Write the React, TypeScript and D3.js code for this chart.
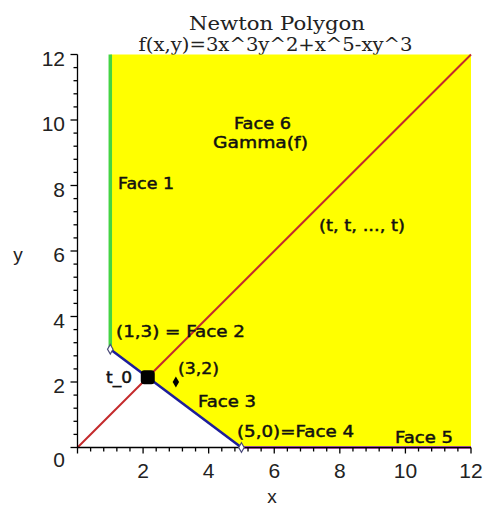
import React from "react";
import * as d3 from "d3";

// Exponent vectors (i, j) of the monomials of f(x,y) = 3x^3y^2 + x^5 - xy^3
const monomialX = [3, 5, 1];
const monomialY = [2, 0, 3];

// Vertices of the Newton polygon boundary (compact part)
const vertexX = [1, 5];
const vertexY = [3, 0];

// Plot window and tick values
const domainMax = 12;
const tickValues = [0, 2, 4, 6, 8, 10, 12];
const minorStep = 0.4;

const W = 486;
const H = 508;

const x = d3.scaleLinear().domain([0, domainMax]).range([77.5, 471]);
const y = d3.scaleLinear().domain([0, domainMax]).range([447.5, 54.5]);

// t_0: where the diagonal (t, t) meets the compact face from (1,3) to (5,0)
const slope = (vertexY[1] - vertexY[0]) / (vertexX[1] - vertexX[0]);
const t0 = (vertexY[0] - slope * vertexX[0]) / (1 - slope);

const labelFont = "'DejaVu Sans', Verdana, sans-serif";

type Label = { text: string; px: number; py: number; len: number };
const labels: Label[] = [
  { text: "Face 6", px: 234, py: 128.5, len: 57 },
  { text: "Gamma(f)", px: 213, py: 148, len: 95 },
  { text: "Face 1", px: 118, py: 188.5, len: 56 },
  { text: "(t, t, ..., t)", px: 319, py: 231, len: 86 },
  { text: "(1,3) = Face 2", px: 116, py: 337, len: 129 },
  { text: "(3,2)", px: 178, py: 373.5, len: 41 },
  { text: "t_0", px: 106, py: 383, len: 26 },
  { text: "Face 3", px: 198, py: 407, len: 58 },
  { text: "(5,0)=Face 4", px: 237, py: 436.5, len: 117 },
  { text: "Face 5", px: 395, py: 443, len: 58 },
];

export default function App() {
  const line = d3
    .line<[number, number]>()
    .x((d) => x(d[0]))
    .y((d) => y(d[1]));

  // Gamma(f): the region above the Newton polygon
  const region: [number, number][] = [
    [vertexX[0], domainMax],
    [vertexX[0], vertexY[0]],
    [vertexX[1], vertexY[1]],
    [domainMax, 0],
    [domainMax, domainMax],
  ];

  const minorTicks = d3
    .range(0, domainMax + 1e-6, minorStep)
    .filter((v) => Math.abs(v / 2 - Math.round(v / 2)) > 1e-6);

  const diamondSmall = d3.symbol().type(d3.symbolDiamond).size(36)();
  const diamondVertex = d3.symbol().type(d3.symbolDiamond).size(26)();

  return (
    <svg
      width={W}
      height={H}
      style={{ position: "absolute", left: 0, top: 0, background: "#fff" }}
    >
      {/* title */}
      <text
        x={277}
        y={29.5}
        textAnchor="middle"
        fontFamily="'DejaVu Serif', serif"
        fontSize={18}
        textLength={176}
        lengthAdjust="spacingAndGlyphs"
        fill="#222"
      >
        Newton Polygon
      </text>
      <text
        x={275.5}
        y={50.5}
        textAnchor="middle"
        fontFamily="'DejaVu Serif', serif"
        fontSize={18}
        textLength={274}
        lengthAdjust="spacingAndGlyphs"
        fill="#222"
      >
        f(x,y)=3x^3y^2+x^5-xy^3
      </text>

      {/* Gamma(f) */}
      <path d={line(region) + "Z"} fill="#ffff00" />

      {/* diagonal (t, t) */}
      <path
        d={line([
          [0, 0],
          [domainMax, domainMax],
        ])!}
        stroke="#c42a2c"
        strokeWidth={2}
        fill="none"
      />

      {/* Face 1: vertical ray */}
      <path
        d={line([
          [vertexX[0], vertexY[0]],
          [vertexX[0], domainMax],
        ])!}
        stroke="#44d444"
        strokeWidth={3.5}
        fill="none"
      />

      {/* Face 5: horizontal ray */}
      <path
        d={line([
          [vertexX[1], vertexY[1]],
          [domainMax, 0],
        ])!}
        stroke="#c860c8"
        strokeWidth={3}
        fill="none"
      />

      {/* Face 3: compact edge */}
      <path
        d={line([
          [vertexX[0], vertexY[0]],
          [vertexX[1], vertexY[1]],
        ])!}
        stroke="#1e1e9a"
        strokeWidth={2.6}
        fill="none"
      />

      {/* axes */}
      <g stroke="#000" strokeWidth={1.3} fill="none">
        <line x1={x(0)} x2={x(domainMax)} y1={y(0)} y2={y(0)} />
        <line x1={x(0)} x2={x(0)} y1={y(0)} y2={y(domainMax)} />
        {tickValues.map((v) => (
          <g key={"M" + v}>
            <line x1={x(v)} x2={x(v)} y1={y(0)} y2={y(0) + 6} />
            <line x1={x(0)} x2={x(0) - 7} y1={y(v)} y2={y(v)} />
          </g>
        ))}
        {minorTicks.map((v) => (
          <g key={"m" + v}>
            <line x1={x(v)} x2={x(v)} y1={y(0)} y2={y(0) + 4} />
            <line x1={x(0)} x2={x(0) - 4} y1={y(v)} y2={y(v)} />
          </g>
        ))}
      </g>

      <g fontFamily="'Liberation Sans', Arial, sans-serif" fontSize={21} fill="#222">
        {tickValues.map((v) =>
          v === 0 ? null : (
            <text key={"xt" + v} x={x(v)} y={478} textAnchor="middle">
              {v}
            </text>
          )
        )}
        {tickValues.map((v) => (
          <text
            key={"yt" + v}
            x={65}
            y={y(v) + (v === 0 ? 19 : 11)}
            textAnchor="end"
          >
            {v}
          </text>
        ))}
      </g>
      <text x={272} y={503} textAnchor="middle" fontFamily="'Liberation Sans', Arial, sans-serif" fontSize={19} fill="#222">
        x
      </text>
      <text x={18} y={261} textAnchor="middle" fontFamily="'Liberation Sans', Arial, sans-serif" fontSize={19} fill="#222">
        y
      </text>

      {/* polygon vertices */}
      {vertexX.map((vx, i) => (
        <path
          key={"v" + i}
          d={diamondVertex!}
          transform={`translate(${x(vx)},${y(vertexY[i])})`}
          fill="#fff"
          stroke="#4a4a7a"
          strokeWidth={1.2}
        />
      ))}

      {/* interior monomial (3,2) */}
      {monomialX.map((mx, i) =>
        vertexX.some((vx, k) => vx === mx && vertexY[k] === monomialY[i]) ? null : (
          <path
            key={"mono" + i}
            d={diamondSmall!}
            transform={`translate(${x(mx)},${y(monomialY[i])})`}
            fill="#000"
          />
        )
      )}

      {/* t_0 */}
      <rect
        x={x(t0) - 7}
        y={y(t0) - 7}
        width={14}
        height={14}
        rx={3.5}
        fill="#000"
      />

      {/* annotations */}
      <g fontFamily={labelFont} fontSize={15} fill="#111" stroke="#111" strokeWidth={0.45}>
        {labels.map((l) => (
          <text
            key={l.text}
            x={l.px}
            y={l.py}
            textLength={l.len}
            lengthAdjust="spacingAndGlyphs"
          >
            {l.text}
          </text>
        ))}
      </g>
    </svg>
  );
}
